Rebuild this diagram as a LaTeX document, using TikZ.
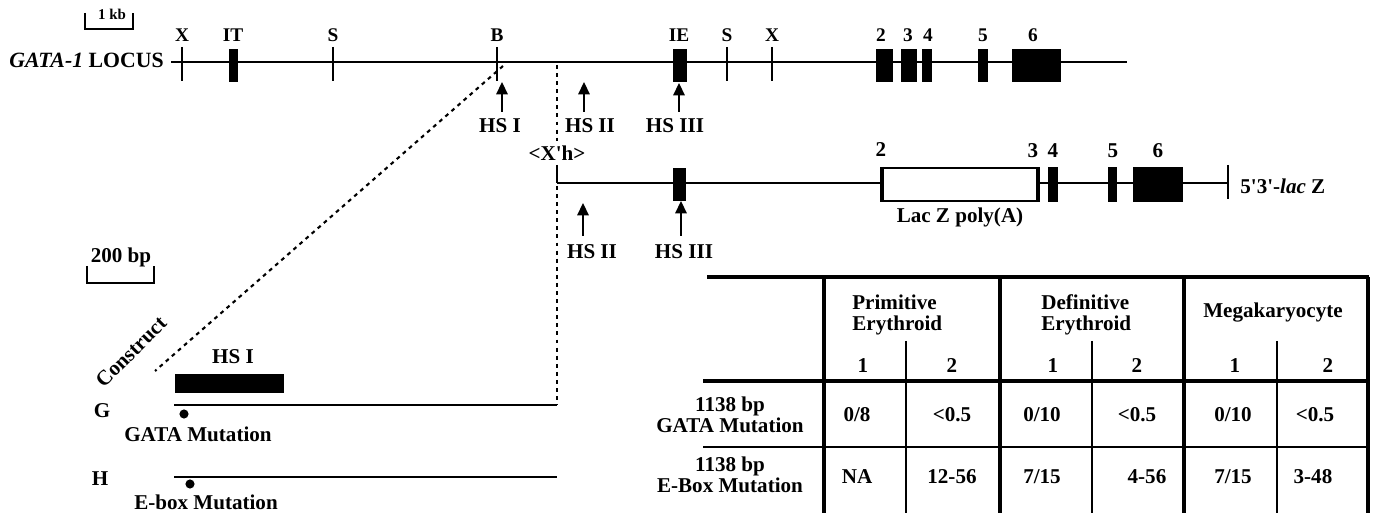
\documentclass[tikz,border=0pt]{standalone}
\usepackage{fontspec}
\setmainfont{Liberation Serif}
\usetikzlibrary{arrows.meta}
\newcommand\mapfont{\fontsize{12}{14}\selectfont\bfseries}
\tikzset{
  every node/.style={font=\mapfont, inner sep=0pt},
  locus/.style={line width=1.1pt},
  site/.style={line width=0.9pt},
  exon/.style={fill=black},
  dotline/.style={line width=1.2pt, dash pattern=on 2.2pt off 2.4pt},
  hsarrow/.style={line width=0.9pt, -{Triangle[length=7pt,width=6.5pt]}},
  mutdot/.style={circle, fill=black, minimum size=5.2pt},
  lbl/.style={anchor=base},
  sitelbl/.style={anchor=base, font=\fontsize{11}{13}\selectfont\bfseries},
  tblthick/.style={line width=1.8pt},
  tblthin/.style={line width=0.6pt}
}

\begin{document}
\begin{tikzpicture}[x=0.02cm, y=-0.02cm]
  \useasboundingbox (0,0) rectangle (1374,513);

  % GATA-1 locus
  \node[anchor=base east, font=\fontsize{12.4}{14}\selectfont\bfseries] (locus) at (164,68) {\textit{GATA-1} LOCUS};
  \draw[locus] (171,62) -- (1127,62);
  \foreach \x/\t [count=\i] in {182/X,333/S,497/B,727/S,772/X} {
    \draw[site] (\x,47) -- (\x,81);
    \node[sitelbl] (site\i) at (\x,42) {\t};
  }
  \foreach \a/\b in {229/238,673/687,876/893,901/917,922/932,978/988,1012/1061}
    \fill[exon] (\a,49) rectangle (\b,82);
  \foreach \x/\t [count=\i] in {233/IT,679/IE,881/2,908/3,928/4,983/5,1033/6}
    \node[sitelbl] (ex\i) at (\x,42) {\t};

  % scale bars
  \draw[site] (85,13) -- (85,29) -- (133,29) -- (133,13);
  \node[lbl, font=\fontsize{8.5}{10}\selectfont\bfseries] (kb) at (112,20) {1 kb};
  \draw[site] (87,266) -- (87,283) -- (154,283) -- (154,266);
  \node[lbl] (bp) at (121,263) {200 bp};

  % hypersensitive sites on the locus
  \coordinate (tipI) at (502,82);
  \coordinate (tipII) at (584,82);
  \coordinate (tipIII) at (679,83);
  \node[lbl] (hsI) at (500,133) {HS I};
  \node[lbl] (hsII) at (590,133) {HS II};
  \node[lbl] (hsIII) at (675,133) {HS III};
  \foreach \n in {I,II,III}
    \draw[hsarrow] (hs\n.north -| tip\n) ++(0,-7) -- (tip\n);

  % lacZ construct
  \node[lbl] (xh) at (557,161) {<X\textquotesingle h>};
  \draw[site] (557,165) -- (557,183);
  \draw[locus] (557,183) -- (1228,183);
  \fill[exon] (673,168) rectangle (686,201);
  \draw[locus, fill=white] (882,168) rectangle (1038,201);
  \draw[line width=1.8pt] (882,167) -- (882,202);
  \fill[exon] (1036,167) rectangle (1040,202);
  \foreach \a/\b in {1048/1058,1108/1117,1133/1183}
    \fill[exon] (\a,167) rectangle (\b,202);
  \draw[site] (1228,165) -- (1228,199);
  \node[lbl] (lz2) at (881,157) {2};
  \foreach \x/\t in {1033/3,1053/4,1113/5,1158/6}
    \node[lbl] (lz\t) at (\x,158) {\t};
  \node[lbl] (polyA) at (960,223) {Lac Z poly(A)};
  \node[anchor=base west] (lacz) at (1240,194)
    {5\textquotesingle 3\textquotesingle -\textit{lac} Z};

  \coordinate (tipIIb) at (583,203);
  \coordinate (tipIIIb) at (681,201);
  \node[lbl] (hsIIb) at (592,259) {HS II};
  \node[lbl] (hsIIIb) at (684,259) {HS III};
  \foreach \n in {IIb,IIIb}
    \draw[hsarrow] (hs\n.north -| tip\n) ++(0,-9) -- (tip\n);

  % expansion of HS I
  \coordinate (bsite) at (503,66);
  \coordinate (cstart) at (155,371);
  \coordinate (xhtop) at (557,65);
  \coordinate (gend) at (557,405);
  \draw[dotline] (bsite) -- (cstart);
  \draw[dotline] (xhtop) -- ([yshift=3pt]xh.north);
  \draw[dotline] (557,186) -- (gend);

  \node[rotate=45] (construct) at (131,352) {Construct};
  \fill[exon] (175,374) rectangle (284,393);
  \node[lbl] (hsIbar) at (233,364) {HS I};

  \draw[locus] (174,405) -- (gend);
  \node[lbl] (g) at (102,418) {G};
  \node[mutdot] (gdot) at (184,414) {};
  \node[lbl] (gmut) at (198,441) {GATA Mutation};

  \draw[locus] (174,477) -- (557,477);
  \node[lbl] (h) at (100,485) {H};
  \node[mutdot] (hdot) at (190,484) {};
  \node[lbl] (hmut) at (206,510) {E-box Mutation};

  % table
  \foreach \x in {824,1000,1184,1368}
    \draw[tblthick] (\x,277) -- (\x,513);
  \foreach \x in {906,1092,1277}
    \draw[tblthin] (\x,341) -- (\x,513);
  \draw[tblthick] (707,277) -- (1369,277);
  \draw[tblthick] (703,381) -- (1369,381);
  \draw[tblthin] (703,447) -- (1368,447);

  \node[anchor=base west] (prim) at (852,310) {Primitive};
  \node[anchor=base west] (prime) at (852,331) {Erythroid};
  \node[anchor=base west] (defi) at (1041,310) {Definitive};
  \node[anchor=base west] (defe) at (1041,331) {Erythroid};
  \node[lbl] (mega) at (1273,318) {Megakaryocyte};
  \foreach \x/\t [count=\i] in {863/1,952/2,1053/1,1137/2,1235/1,1328/2}
    \node[lbl] (col\i) at (\x,373) {\t};

  \node[lbl] (rowa) at (730,412) {1138 bp};
  \node[lbl] (rowab) at (730,433) {GATA Mutation};
  \node[lbl] (rowb) at (730,472) {1138 bp};
  \node[lbl] (rowbb) at (730,493) {E-Box Mutation};
  \foreach \x/\t [count=\i] in {857/0\slash 8,952/<0.5,1042/0\slash 10,1137/<0.5,1233/0\slash 10,1315/<0.5}
    \node[lbl] (a\i) at (\x,421) {\t};
  \foreach \x/\t [count=\i] in {857/NA,952/12-56,1042/7\slash 15,1147/4-56,1233/7\slash 15,1313/3-48}
    \node[lbl] (b\i) at (\x,483) {\t};
\end{tikzpicture}
\end{document}
